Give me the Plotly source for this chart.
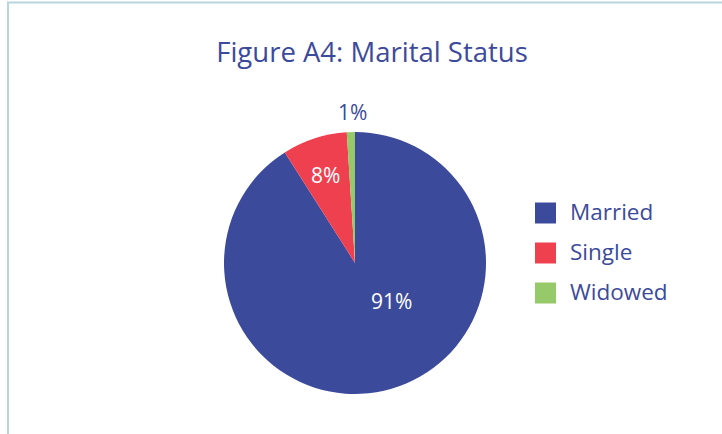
import plotly.graph_objects as go

labels = ["Married", "Single", "Widowed"]
values = [91, 8, 1]
colors = ["#3C4A9C", "#EF4050", "#95C96A"]
text_colors = ["white", "white", "#3C4A9C"]
# label anchor points (pixels) for the percentage labels
label_px = [(391, 301), (325, 175), (352, 112)]

W, H = 722, 434
FONT = "Open Sans"
DARK = "#3C4A9C"

fig = go.Figure()
fig.add_trace(go.Pie(
    labels=labels, values=values, sort=False, direction="clockwise", rotation=0,
    marker=dict(colors=colors, line=dict(width=0)),
    textinfo="none",
    domain=dict(x=[224 / W, 486 / W], y=[1 - 394 / H, 1 - 132 / H]),
    showlegend=False, hoverinfo="label+percent",
))

total = sum(values)
annotations = []
for v, (px, py), tc in zip(values, label_px, text_colors):
    annotations.append(dict(text=f"{round(v / total * 100)}%", xref="paper", yref="paper",
                            x=px / W, y=1 - py / H, xanchor="center", yanchor="middle",
                            showarrow=False, font=dict(family=FONT, size=21, color=tc)))

# manual legend (large square swatches)
sq = 21
x_sq = 535
y0 = 213
gap = 40
shapes = []
for i, (lab, col) in enumerate(zip(labels, colors)):
    yc = y0 + i * gap
    shapes.append(dict(type="rect", xref="paper", yref="paper",
                       x0=x_sq / W, x1=(x_sq + sq) / W,
                       y0=1 - (yc + sq / 2) / H, y1=1 - (yc - sq / 2) / H,
                       fillcolor=col, line=dict(width=0)))
    annotations.append(dict(text=lab, xref="paper", yref="paper",
                            x=568 / W, y=1 - (yc - 1.5) / H, xanchor="left", yanchor="middle",
                            showarrow=False, font=dict(family=FONT, size=22.5, color=DARK)))

# frame lines (left and top)
frame = "#B6D5DC"
shapes.append(dict(type="line", xref="paper", yref="paper",
                   x0=8 / W, x1=8 / W, y0=0, y1=1 - 2.5 / H, line=dict(color=frame, width=2)))
shapes.append(dict(type="line", xref="paper", yref="paper",
                   x0=7 / W, x1=1, y0=1 - 2.5 / H, y1=1 - 2.5 / H, line=dict(color=frame, width=2)))

fig.update_layout(
    width=W, height=H,
    margin=dict(l=0, r=0, t=0, b=0),
    paper_bgcolor="white", plot_bgcolor="white",
    title=dict(text="Figure A4: Marital Status", x=372 / W, xanchor="center", xref="paper",
               y=1 - 52 / H, yanchor="middle", yref="paper",
               font=dict(family=FONT, size=27.5, color=DARK)),
    shapes=shapes, annotations=annotations,
)

fig.write_html("out.html", config={"displayModeBar": False},
               post_script="document.body.style.margin='0';document.body.style.overflow='hidden';")
